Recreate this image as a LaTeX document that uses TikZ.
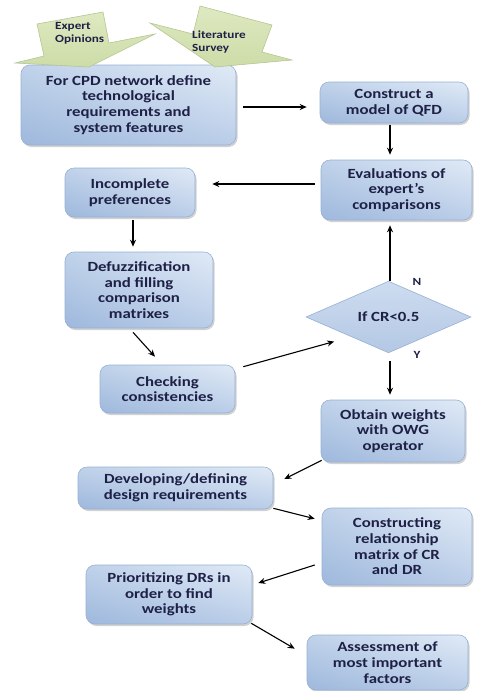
\documentclass[tikz,border=0pt]{standalone}
\usepackage{fontspec}
\setmainfont{Carlito}[FakeStretch=1.2]
\usetikzlibrary{shapes.geometric,shadows,shadings,arrows.meta}
\definecolor{txt}{RGB}{30,32,70}
\definecolor{bdr}{RGB}{150,176,212}
\definecolor{bUL}{RGB}{192,210,234}
\definecolor{bUR}{RGB}{224,234,246}
\definecolor{bLL}{RGB}{158,184,220}
\definecolor{bLR}{RGB}{186,205,232}
\definecolor{gfill}{RGB}{222,233,192}
\definecolor{gfill2}{RGB}{205,220,168}
\definecolor{gbdr}{RGB}{180,198,148}
\tikzset{
  box/.style={rectangle, rounded corners=9pt, draw=bdr, line width=0.6pt,
    upper left=bUL, upper right=bUR, lower left=bLL, lower right=bLR,
    drop shadow={shadow xshift=1.5pt, shadow yshift=-2pt, opacity=0.3, fill=black!60},
    align=center, text=txt, inner sep=2pt,
    font=\fontsize{14}{15.7}\selectfont\bfseries},
  dia/.style={diamond, draw=bdr, line width=0.6pt,
    top color={rgb,255:red,205;green,220;blue,240}, bottom color={rgb,255:red,180;green,200;blue,228},
    align=center, text=txt, inner sep=0pt,
    font=\fontsize{14}{15.7}\selectfont\bfseries},
  green/.style={draw=gbdr, line width=0.6pt, top color=gfill, bottom color=gfill2},
  gtext/.style={align=left, text=txt, inner sep=0pt, anchor=west,
    font=\fontsize{11}{12.8}\selectfont\bfseries},
  lbl/.style={text=txt, inner sep=0pt, font=\fontsize{11}{13}\selectfont\bfseries},
  arr/.style={-{Stealth[length=7pt,width=6pt]}, line width=1.1pt, black},
}
\begin{document}
\begin{tikzpicture}[x=1pt,y=-1pt]
\useasboundingbox (0,0) rectangle (477,691);

\node[box, minimum width=215pt, minimum height=80pt] (cpd) at (128.5,105) {For CPD network define\\technological\\requirements and\\system features};
\node[box, minimum width=148pt, minimum height=41pt] (qfd) at (394,102.5) {Construct a\\model of QFD};
\node[box, minimum width=151pt, minimum height=60pt] (eval) at (396.5,190) {Evaluations of\\expert's\\comparisons};
\node[box, minimum width=130pt, minimum height=49pt] (incomp) at (130,192.5) {Incomplete\\preferences};
\node[box, minimum width=148pt, minimum height=76pt] (defuzz) at (139,290) {Defuzzification\\and filling\\comparison\\matrixes};
\node[box, minimum width=135pt, minimum height=48pt] (check) at (167.5,389) {Checking\\consistencies};
\node[dia, minimum width=165pt, minimum height=46pt] (cr) at (388.5,317) {If CR<0.5};
\node[box, minimum width=144pt, minimum height=62pt] (owg) at (393,431) {Obtain weights\\with OWG\\operator};
\node[box, minimum width=195pt, minimum height=42pt] (dev) at (175.5,488) {Developing/defining\\design requirements};
\node[box, minimum width=150pt, minimum height=77pt] (rel) at (397,546.5) {Constructing\\relationship\\matrix of CR\\and DR};
\node[box, minimum width=166pt, minimum height=59pt] (prio) at (169,594.5) {Prioritizing DRs in\\order to find\\weights};
\node[box, minimum width=161pt, minimum height=55pt] (assess) at (387.5,662.5) {Assessment of\\most important\\factors};

% green callout arrows
\draw[green] (37,24) -- (103,12) -- (109,43) -- (155,34) -- (89,67) -- (15,63) -- (44,56) -- cycle;
\draw[green] (200,6) -- (272,25) -- (262,52) -- (292,60) -- (215,67) -- (150,23) -- (193,34) -- cycle;
\node[gtext] (expert) at (55,33.5) {Expert\\Opinions};
\node[gtext] (lit) at (192,42) {Literature\\Survey};

% connectors
\draw[arr] ([xshift=7pt,yshift=-2pt]cpd.east) -- ([xshift=-13pt,yshift=-2pt]cpd.east -| qfd.west);
\draw[arr] ([xshift=-4pt,yshift=-2pt]qfd.south) -- ([xshift=-4pt,yshift=5pt]qfd.south |- eval.north);
\draw[arr] ([xshift=-6pt,yshift=6pt]eval.west) -- ([xshift=17pt,yshift=6pt]eval.west -| incomp.east);
\draw[arr] ([xshift=3pt,yshift=-3pt]incomp.south) -- ([xshift=3pt,yshift=5pt]incomp.south |- defuzz.north);
\draw[arr] ([xshift=-6pt,yshift=-4pt]defuzz.south) -- ([xshift=-12.5pt,yshift=8pt]check.north);
\draw[arr] ([xshift=8pt,yshift=-2pt]check.north east) -- ([xshift=-13pt,yshift=-6.5pt]cr.south west);
\draw[arr] ([xshift=1.5pt,yshift=0pt]cr.north) -- ([xshift=1.5pt,yshift=-5pt]cr.north |- eval.south);
\draw[arr] ([xshift=1.5pt,yshift=-8pt]cr.south) -- ([xshift=1.5pt,yshift=5pt]cr.south |- owg.north);
\draw[arr] ([xshift=1pt,yshift=2pt]owg.south west) -- ([xshift=11pt,yshift=9pt]dev.east);
\draw[arr] ([xshift=0pt,yshift=1pt]dev.south east) -- ([xshift=-7pt,yshift=-11pt]rel.north west);
\draw[arr] ([xshift=-7pt,yshift=-18.5pt]rel.west) -- ([xshift=6pt,yshift=11.5pt]prio.east);
\draw[arr] ([xshift=-1pt,yshift=1pt]prio.south east) -- ([xshift=-12pt,yshift=-14pt]assess.north west);

\node[lbl] (n) at (417,282) {N};
\node[lbl] (y) at (417,355) {Y};
\end{tikzpicture}
\end{document}
